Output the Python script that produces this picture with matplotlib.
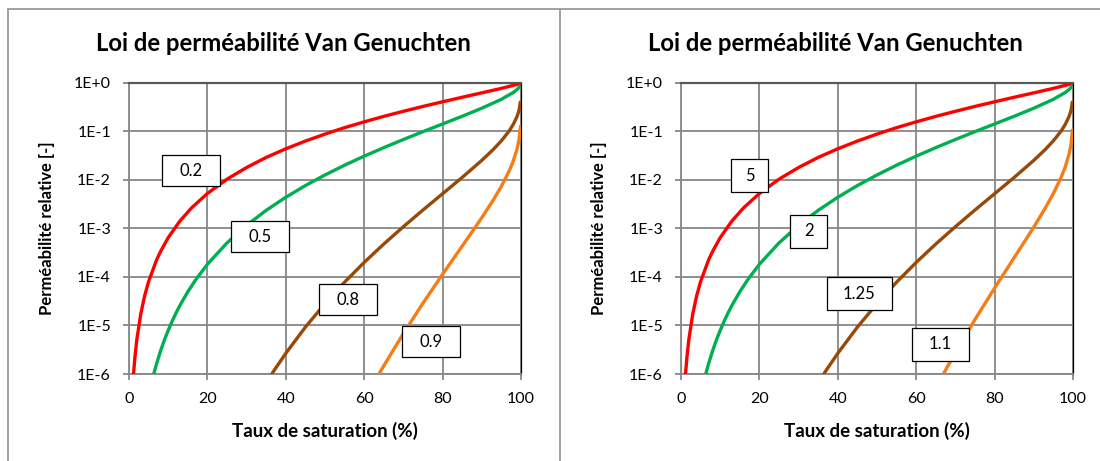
# -*- coding: utf-8 -*-
"""
Loi de perméabilité Van Genuchten - deux graphiques côte à côte
"""

import matplotlib
matplotlib.use("Agg")
import matplotlib.pyplot as plt
from matplotlib.lines import Line2D
from matplotlib.patches import Rectangle
from matplotlib.ticker import FixedLocator, FixedFormatter, NullLocator
import matplotlib.transforms as mtransforms

plt.rcParams['font.family'] = ['Lato', 'DejaVu Sans']

#---------------------------------------- DATA ------------------------------------------
# Taux de saturation (%) / perméabilité relative
sat_red = [1, 1.2, 1.5, 2, 3, 4, 5, 7, 8, 10, 13, 16, 20, 25, 30, 35, 40, 45, 50,
           55, 60, 65, 70, 75, 80, 85, 90, 95, 99, 99.9]
kr_red = [6.41e-7, 1.11e-6, 2.16e-6, 5.13e-6, 1.73e-5, 4.11e-5, 8.04e-5, 2.21e-4,
          3.30e-4, 6.47e-4, 1.43e-3, 2.68e-3, 5.27e-3, 1.04e-2, 1.81e-2, 2.92e-2,
          4.40e-2, 6.35e-2, 8.84e-2, 0.120, 0.158, 0.205, 0.261, 0.329, 0.410,
          0.508, 0.626, 0.775, 0.936, 0.990]

sat_green = [5, 6, 6.5, 7, 8, 9, 10, 11, 12, 13, 15, 17, 20, 25, 30, 35, 40, 45, 50,
             55, 60, 65, 70, 75, 80, 85, 90, 95, 98, 99, 99.5, 99.9]
kr_green = [3.50e-7, 7.95e-7, 1.14e-6, 1.59e-6, 2.91e-6, 4.94e-6, 7.95e-6, 1.22e-5,
            1.81e-5, 2.60e-5, 4.96e-5, 8.74e-5, 1.83e-4, 5.04e-4, 1.16e-3, 2.37e-3,
            4.41e-3, 7.68e-3, 1.27e-2, 2.02e-2, 3.10e-2, 4.65e-2, 6.84e-2, 9.93e-2,
            0.143, 0.206, 0.302, 0.461, 0.635, 0.734, 0.808, 0.912]

sat_brown = [35, 36, 37, 40, 45, 50, 55, 60, 65, 70, 75, 80, 85, 90, 93, 95, 97, 98,
             99, 99.5, 99.9]
kr_brown = [6.56e-7, 8.82e-7, 1.18e-6, 2.67e-6, 9.27e-6, 2.83e-5, 7.83e-5, 2.00e-4,
            4.79e-4, 1.09e-3, 2.41e-3, 5.21e-3, 1.13e-2, 2.54e-2, 4.32e-2, 6.44e-2,
            0.103, 0.139, 0.204, 0.273, 0.427]

sat_orange_l = [62, 63.5, 65, 70, 75, 80, 85, 88, 90, 93, 95, 97, 98, 99, 99.5, 99.9]
kr_orange_l = [5.59e-7, 9.15e-7, 1.48e-6, 6.85e-6, 2.89e-5, 1.14e-4, 4.34e-4, 9.68e-4,
               1.67e-3, 3.95e-3, 7.42e-3, 1.54e-2, 2.42e-2, 4.36e-2, 6.77e-2, 0.136]

sat_orange_r = [65, 66.8, 68, 70, 75, 80, 85, 88, 90, 93, 95, 97, 98, 99, 99.5, 99.9]
kr_orange_r = [5.15e-7, 9.54e-7, 1.43e-6, 2.75e-6, 1.33e-5, 5.91e-5, 2.51e-4, 5.97e-4,
               1.07e-3, 2.70e-3, 5.28e-3, 1.15e-2, 1.84e-2, 3.43e-2, 5.44e-2, 0.113]

labels_left = ['0.2', '0.5', '0.8', '0.9']
labels_right = ['5', '2', '1.25', '1.1']

x_ticks = [0, 20, 40, 60, 80, 100]
y_ticks = [1e-6, 1e-5, 1e-4, 1e-3, 1e-2, 1e-1, 1e0]
y_ticklabels = ['1E-6', '1E-5', '1E-4', '1E-3', '1E-2', '1E-1', '1E+0']
#----------------------------------------------------------------------------------------

# --- style ---
colors = ['#FF0000', '#00B050', '#984807', '#F47D17']
grid_col = '#878787'
title = 'Loi de perméabilité Van Genuchten'

# position des étiquettes (données) et taille des cadres (pixels)
pos_left = [(15.8, 1.55e-2), (33.4, 6.8e-4), (55.9, 3.4e-5), (77.0, 4.6e-6)]
box_left = [(58, 31), (58, 31), (58, 31), (58, 31)]
pos_right = [(17.5, 1.23e-2), (32.6, 8.7e-4), (45.5, 4.5e-5), (66.2, 4.1e-6)]
box_right = [(37, 33), (37, 33), (65, 33), (57, 33)]

DPI = 100
fig = plt.figure(figsize=(11, 4.61), dpi=DPI)
fig.patch.set_facecolor('white')

ax_l = fig.add_axes([0.11727, 0.18872, 0.35636, 0.63124])
ax_r = fig.add_axes([0.61909, 0.18872, 0.35636, 0.63124])


def draw_panel(ax, series, labels, positions, boxes, title_x):
    for (sx, ky), col in zip(series, colors):
        ax.plot(sx, ky, color=col, lw=2.4, solid_capstyle='butt', zorder=3)

    ax.set_yscale('log')
    ax.set_xlim(0, 100)
    ax.set_ylim(1e-6, 1)
    ax.xaxis.set_major_locator(FixedLocator(x_ticks))
    ax.yaxis.set_major_locator(FixedLocator(y_ticks))
    ax.yaxis.set_major_formatter(FixedFormatter(y_ticklabels))
    ax.yaxis.set_minor_locator(NullLocator())

    ax.grid(True, color=grid_col, lw=1.3)
    ax.set_axisbelow(True)
    ax.tick_params(axis='both', direction='out', length=4, width=1.3, color=grid_col,
                   labelsize=11.5, labelcolor='black')
    ax.tick_params(axis='x', pad=9)
    ax.tick_params(axis='y', pad=9)

    for side in ['left', 'bottom']:
        ax.spines[side].set_color(grid_col)
        ax.spines[side].set_linewidth(1.3)
    ax.spines['top'].set_color('#595959')
    ax.spines['top'].set_linewidth(1.6)
    ax.spines['right'].set_color('black')
    ax.spines['right'].set_linewidth(0.9)

    ax.set_xlabel('Taux de saturation (%)', fontsize=13.5, fontweight='bold')
    ax.set_ylabel('Perméabilité relative [-]', fontsize=12, fontweight='bold')
    ax.xaxis.label.set_va('center')
    ax.yaxis.label.set_va('center')
    ax.xaxis.set_label_coords(0.5, -0.196)
    ax.yaxis.set_label_coords(-0.209, 0.5)

    # cadres blancs avec la valeur du paramètre
    for txt, (px, py), (bw, bh) in zip(labels, positions, boxes):
        offset = mtransforms.ScaledTranslation(px, py, ax.transData)
        rect = Rectangle((-bw / 2 / DPI, -bh / 2 / DPI), bw / DPI, bh / DPI,
                         transform=fig.dpi_scale_trans + offset,
                         facecolor='white', edgecolor='black', lw=0.9, zorder=5)
        ax.add_patch(rect)
        ax.text(px, py, txt, ha='center', va='center', fontsize=12, zorder=6)

    fig.text(title_x, 0.905, title, ha='center', va='center', fontsize=17.2,
             fontweight='bold')


draw_panel(ax_l,
           [(sat_red, kr_red), (sat_green, kr_green), (sat_brown, kr_brown),
            (sat_orange_l, kr_orange_l)],
           labels_left, pos_left, box_left, 283.5 / 1100)
draw_panel(ax_r,
           [(sat_red, kr_red), (sat_green, kr_green), (sat_brown, kr_brown),
            (sat_orange_r, kr_orange_r)],
           labels_right, pos_right, box_right, 835.6 / 1100)

# --- cadres des deux graphiques ---
frame_col = '#A0A0A0'
fig.add_artist(Line2D([7.5 / 1100, 1.0], [1 - 9.5 / 461, 1 - 9.5 / 461],
                      transform=fig.transFigure, color=frame_col, lw=1.4))
fig.add_artist(Line2D([7.5 / 1100, 7.5 / 1100], [0.0, 1 - 9.5 / 461],
                      transform=fig.transFigure, color=frame_col, lw=1.4))
fig.add_artist(Line2D([559.5 / 1100, 559.5 / 1100], [0.0, 1 - 9.5 / 461],
                      transform=fig.transFigure, color=frame_col, lw=1.4))

fig.savefig('out.png', dpi=DPI)
plt.close(fig)
print("Saved out.png")
